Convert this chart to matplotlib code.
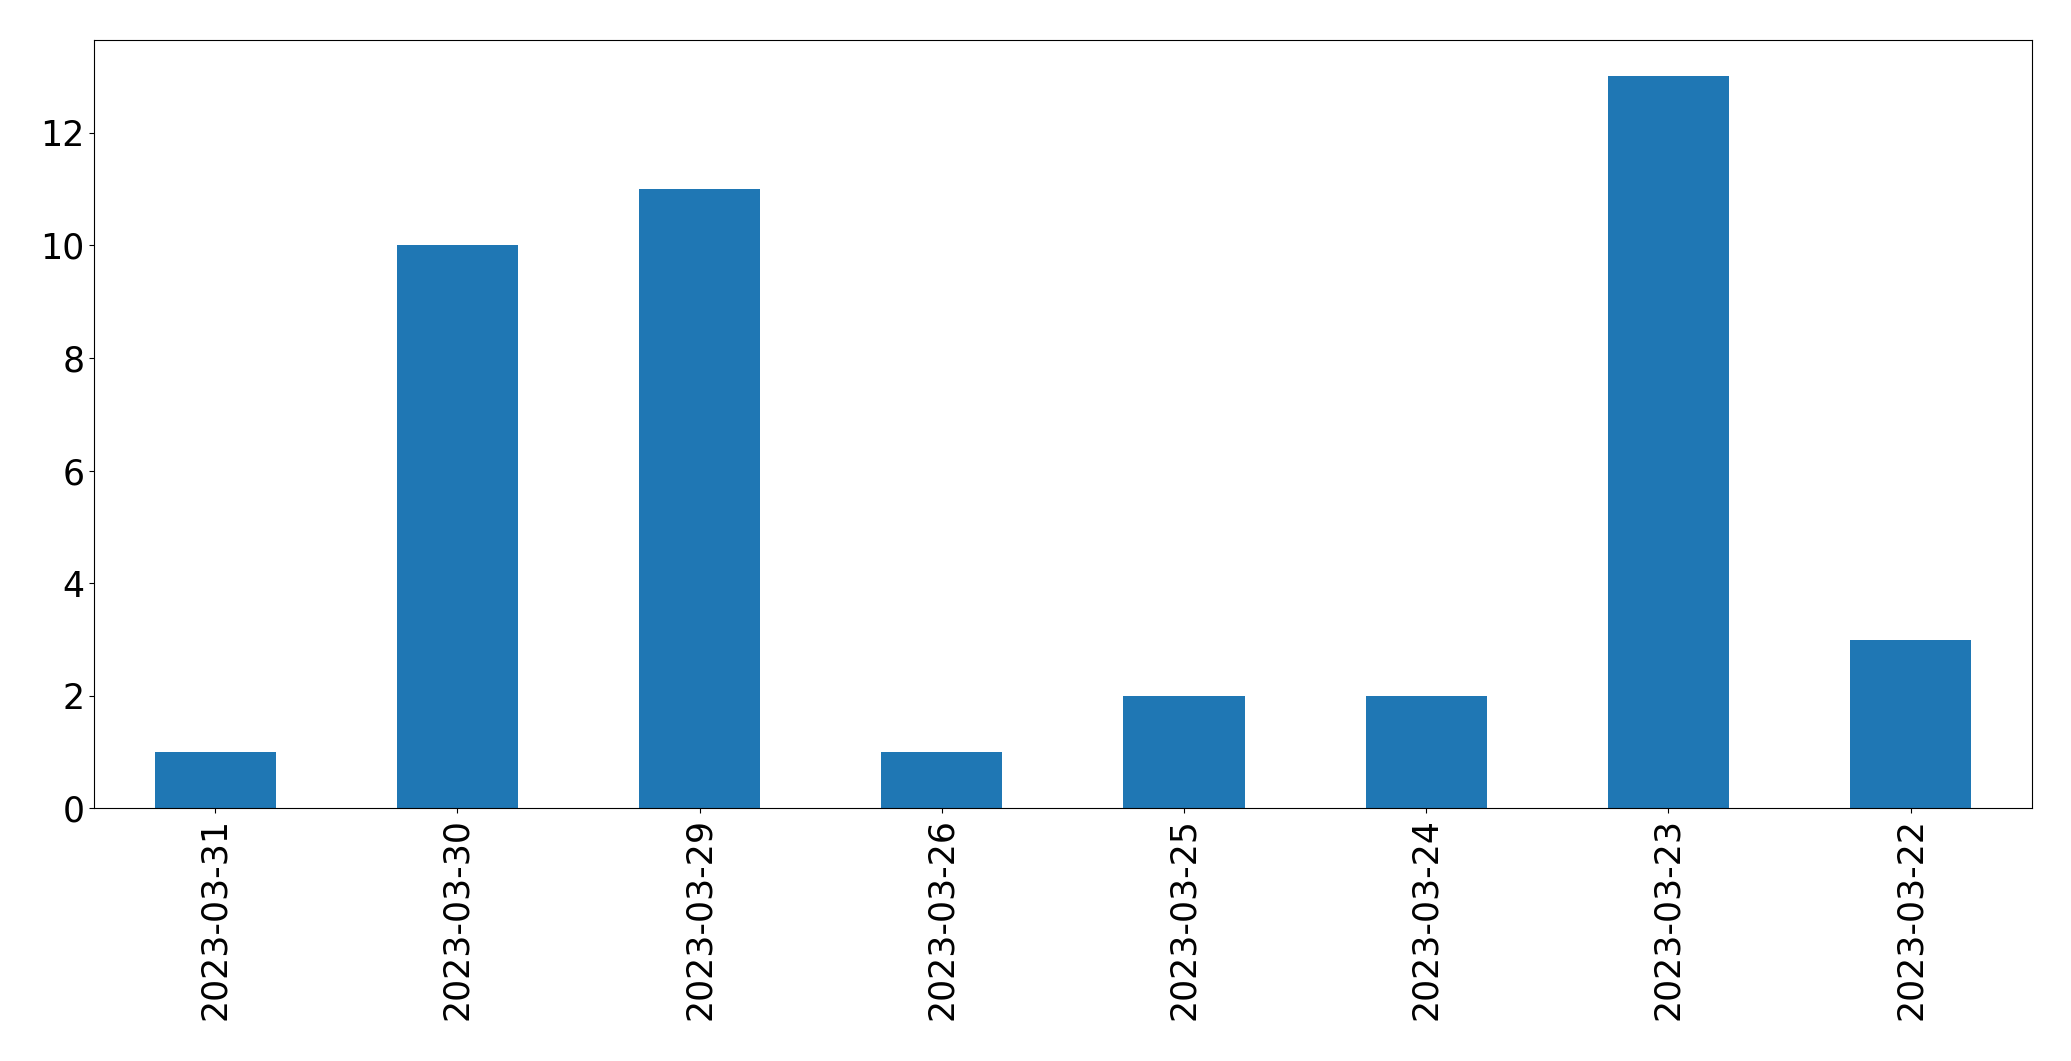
import matplotlib
matplotlib.use("Agg")
import matplotlib.pyplot as plt
import numpy as np

dates = ["2023-03-31", "2023-03-30", "2023-03-29", "2023-03-26",
         "2023-03-25", "2023-03-24", "2023-03-23", "2023-03-22"]
counts = [1, 10, 11, 1, 2, 2, 13, 3]

fig = plt.figure(figsize=(20.71, 10.61), dpi=100)
ax = fig.add_axes([0.0455, 0.238, 0.9355, 0.7245])

x = np.arange(len(dates))
ax.bar(x, counts, width=0.5, color="#1f77b4")
ax.set_xlim(-0.5, len(dates) - 0.5)
ax.set_xticks(x)
ax.set_xticklabels(dates, rotation=90, fontsize=25)
ax.tick_params(axis="y", labelsize=25)

fig.savefig("out.png")
